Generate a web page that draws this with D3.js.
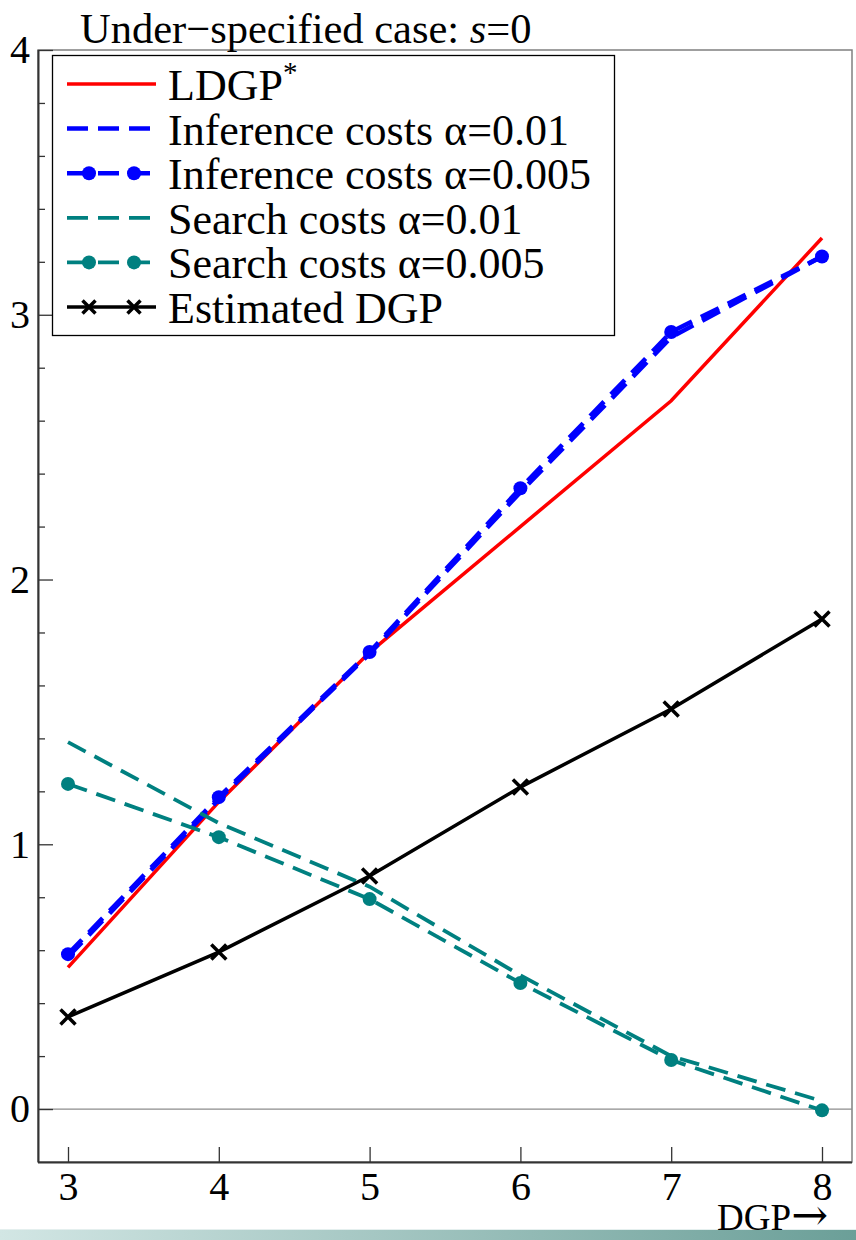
<!DOCTYPE html>
<html>
<head>
<meta charset="utf-8">
<script src="https://cdn.jsdelivr.net/npm/d3@7"></script>
<style>
  body { margin: 0; background: #fff; }
  svg { display: block; font-family: "Liberation Serif", "Times New Roman", serif; }
</style>
</head>
<body>
<svg id="chart" width="856" height="1240"></svg>
<script>
// data
const dgp = [3, 4, 5, 6, 7, 8];
const ldgp = [0.535, 1.16, 1.725, 2.2, 2.675, 3.29];
const inference01 = [0.575, 1.17, 1.72, 2.33, 2.915, 3.22];
const inference005 = [0.585, 1.178, 1.726, 2.345, 2.935, 3.22];
const search01 = [1.386, 1.08, 0.84, 0.505, 0.2, 0.03];
const search005 = [1.228, 1.027, 0.793, 0.476, 0.185, -0.005];
const estimated = [0.348, 0.593, 0.88, 1.216, 1.511, 1.851];
const yMajor = [0, 1, 2, 3, 4];
const yMinor = [0.2,0.4,0.6,0.8,1.2,1.4,1.6,1.8,2.2,2.4,2.6,2.8,3.2,3.4,3.6,3.8];

const series = [
  {name: "LDGP", sup: "*", values: ldgp, color: "#ff0000", dash: null, marker: null, width: 3.5},
  {name: "Inference costs α=0.01", values: inference01, color: "#0000ff", dash: "20,10", marker: null, width: 4.5},
  {name: "Inference costs α=0.005", values: inference005, color: "#0000ff", dash: "20,10", marker: "dot", width: 4.5},
  {name: "Search costs α=0.01", values: search01, color: "#008080", dash: "20,10", marker: null, width: 3.8},
  {name: "Search costs α=0.005", values: search005, color: "#008080", dash: "20,10", marker: "dot", width: 3.8},
  {name: "Estimated DGP", values: estimated, color: "#000000", dash: null, marker: "cross", width: 3.5}
];

const svg = d3.select("#chart");
const pLeft = 38, pRight = 852, pTop = 50, pBottom = 1162;

const x = d3.scaleLinear().domain([3, 8]).range([68, 822]);
const y = d3.scaleLinear().domain([-0.2, 4]).range([pBottom, pTop]);

// gradient strip at the bottom
const defs = svg.append("defs");
const grad = defs.append("linearGradient").attr("id", "strip");
grad.append("stop").attr("offset", "0%").attr("stop-color", "#d2e6e4");
grad.append("stop").attr("offset", "100%").attr("stop-color", "#6b9f98");
svg.append("rect").attr("x", 0).attr("y", 1230).attr("width", 856).attr("height", 10)
  .attr("fill", "url(#strip)");
svg.append("line").attr("x1", 0).attr("x2", 856).attr("y1", 1229.5).attr("y2", 1229.5)
  .attr("stroke", "#e4efee").attr("stroke-width", 1);

// frame
svg.append("rect").attr("x", pLeft).attr("y", pTop).attr("width", pRight - pLeft).attr("height", pBottom - pTop)
  .attr("fill", "none").attr("stroke", "#808080").attr("stroke-width", 1.5);

// zero line
svg.append("line").attr("x1", pLeft).attr("x2", pRight).attr("y1", y(0)).attr("y2", y(0))
  .attr("stroke", "#8c8c8c").attr("stroke-width", 1.2);

// axes
const yAxis = svg.append("g").attr("transform", `translate(${pLeft},0)`)
  .call(d3.axisLeft(y).tickValues(yMajor).tickFormat(d3.format("d")).tickSize(-15).tickSizeOuter(0).tickPadding(8));
svg.append("g").attr("transform", `translate(${pLeft},0)`)
  .call(d3.axisLeft(y).tickValues(yMinor).tickFormat("").tickSize(-7).tickSizeOuter(0))
  .select(".domain").remove();
const xAxis = svg.append("g").attr("transform", `translate(0,${pBottom})`)
  .call(d3.axisBottom(x).tickValues(dgp).tickFormat(d3.format("d")).tickSize(-15).tickSizeOuter(0).tickPadding(10));
xAxis.select(".domain").attr("d", `M${pLeft},0.5H${pRight}`);
yAxis.select(".domain").attr("d", `M0.5,${pBottom}V${pTop}`);

svg.selectAll(".tick line").attr("stroke", "#333").attr("stroke-width", 1.3);
svg.selectAll(".domain").attr("stroke", "#333").attr("stroke-width", 2);
svg.selectAll(".tick text").attr("font-size", 40).attr("font-family", "Liberation Serif").attr("fill", "#000");

const xl = svg.append("text").attr("x", 828).attr("y", 1230).attr("text-anchor", "end").attr("font-size", 37);
xl.append("tspan").text("DGP");
xl.append("tspan").attr("font-family", "DejaVu Serif").attr("font-size", 44).text("→");

// lines
const line = d3.line().x((d, i) => x(dgp[i])).y(d => y(d));
series.forEach(s => {
  svg.append("path").datum(s.values)
    .attr("d", line)
    .attr("fill", "none")
    .attr("stroke", s.color)
    .attr("stroke-width", s.width)
    .attr("stroke-dasharray", s.dash);
  if (s.marker === "dot") {
    svg.selectAll(null).data(s.values).enter().append("circle")
      .attr("cx", (d, i) => x(dgp[i])).attr("cy", d => y(d))
      .attr("r", 7).attr("fill", s.color);
  } else if (s.marker === "cross") {
    svg.selectAll(null).data(s.values).enter().append("path")
      .attr("d", (d, i) => {
        const cx = x(dgp[i]), cy = y(d), k = 7.5;
        return `M${cx-k},${cy-k}L${cx+k},${cy+k}M${cx-k},${cy+k}L${cx+k},${cy-k}`;
      })
      .attr("stroke", s.color).attr("stroke-width", 3.5);
  }
});

// title
const title = svg.append("text").attr("x", 80).attr("y", 43).attr("font-size", 42.5);
title.append("tspan").text("Under−specified case: ");
title.append("tspan").attr("font-style", "italic").text("s");
title.append("tspan").text("=0");

// legend
const lg = svg.append("g");
lg.append("rect").attr("x", 52.5).attr("y", 55.5).attr("width", 562).attr("height", 280)
  .attr("fill", "#fff").attr("stroke", "#000").attr("stroke-width", 1.3);
series.forEach((s, i) => {
  const ly = 84 + i * 44.6;
  lg.append("line").attr("x1", 67).attr("x2", 156).attr("y1", ly).attr("y2", ly)
    .attr("stroke", s.color).attr("stroke-width", s.width)
    .attr("stroke-dasharray", s.dash ? "21,10" : null);
  [89, 134].forEach(mx => {
    if (s.marker === "dot") {
      lg.append("circle").attr("cx", mx).attr("cy", ly).attr("r", 7).attr("fill", s.color);
    } else if (s.marker === "cross") {
      lg.append("path").attr("d", `M${mx-6.5},${ly-6.5}L${mx+6.5},${ly+6.5}M${mx-6.5},${ly+6.5}L${mx+6.5},${ly-6.5}`)
        .attr("stroke", s.color).attr("stroke-width", 3.5);
    }
  });
  const t = lg.append("text").attr("x", 168).attr("y", ly + 16).attr("font-size", 44).text(s.name);
  if (s.sup) t.append("tspan").attr("font-size", 29).attr("dy", -18).text(s.sup);
});
</script>
</body>
</html>
